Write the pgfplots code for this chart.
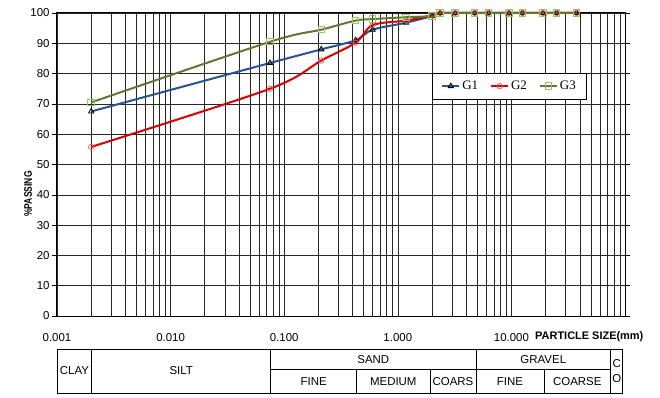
\documentclass[border=0pt]{standalone}
\usepackage{pgfplots}
\usepackage{pgfplotstable}
\pgfplotsset{compat=1.18}
\usepackage{fontspec}
\setmainfont{Liberation Sans}
\newfontfamily\legfont{Liberation Serif}
\definecolor{cGone}{RGB}{38,84,145}
\definecolor{cGtwo}{RGB}{222,0,0}
\definecolor{mGtwo}{RGB}{230,90,90}
\definecolor{cGthree}{RGB}{94,122,48}
\definecolor{mGthree}{RGB}{160,190,95}

\pgfplotstableread{
x y
0.002 67.5
0.075 83.5
0.212 88.0
0.425 91.0
0.6 94.5
1.18 96.8
2.0 99.0
2.36 100
3.2 100
4.75 100
6.3 100
9.5 100
12.5 100
19 100
25 100
37.5 100
}\gone
\pgfplotstableread{
x y
0.002 55.8
0.075 75.0
0.212 84.3
0.425 90.2
0.6 96.0
1.18 97.5
2.0 99.2
2.36 100
3.2 100
4.75 100
6.3 100
9.5 100
12.5 100
19 100
25 100
37.5 100
}\gtwo
\pgfplotstableread{
x y
0.002 70.5
0.075 90.5
0.212 94.5
0.425 97.5
0.6 98.0
1.18 98.6
2.0 99.0
2.36 100
3.2 100
4.75 100
6.3 100
9.5 100
12.5 100
19 100
25 100
37.5 100
}\gthree

\begin{document}
\begin{tikzpicture}[x=1bp,y=1bp]
\useasboundingbox (0,0) rectangle (660,397);
\begin{axis}[
  at={(57bp,81bp)}, anchor=south west,
  scale only axis, width=568bp, height=303bp,
  xmode=log, xmin=0.001, xmax=100, ymin=0, ymax=100,
  xtick={0.001,0.01,0.1,1,10},
  xticklabels={0.001,0.010,0.100,1.000,10.000},
  minor xtick={0.002,0.003,0.004,0.005,0.006,0.007,0.008,0.009,
    0.02,0.03,0.04,0.05,0.06,0.07,0.08,0.09,
    0.2,0.3,0.4,0.5,0.6,0.7,0.8,0.9,
    2,3,4,5,6,7,8,9,20,30,40,50,60,70,80,90},
  ytick={0,10,...,100},
  grid=both,
  major grid style={black!85, line width=0.6bp},
  minor grid style={black!85, line width=0.6bp},
  axis line style={black, line width=1bp},
  xtick style={draw=none}, minor tick style={draw=none},
  ytick style={black, line width=0.6bp},
  tick align=outside, major tick length=5bp,
  tick label style={font=\fontsize{11.5}{13}\selectfont},
  yticklabel style={xshift=1bp},
  /pgf/number format/assume math mode=true,
  xticklabel style={anchor=base, yshift=-20bp},
  clip=false,
  legend columns=3,
  legend style={at={(axis description cs:0.660,0.803)}, anchor=north west,
    draw=black, line width=0.8bp, fill=white,
    font=\legfont\fontsize{13}{15}\selectfont,
    inner xsep=9bp, inner ysep=6bp,
    /tikz/every even column/.append style={column sep=10bp}},
]
\addplot[cGone, line width=2bp, smooth, mark=triangle, mark size=3bp,
  mark options={black, line width=0.8bp, solid, fill=none}] table {\gone};
\addlegendentry{G1}
\addplot[cGtwo, line width=2bp, smooth, mark=o, mark size=2.7bp,
  mark options={mGtwo, line width=0.7bp, solid, fill=none}] table {\gtwo};
\addlegendentry{G2}
\addplot[cGthree, line width=2bp, smooth, mark=square, mark size=3.2bp,
  mark options={mGthree, line width=1bp, solid, fill=none}] table {\gthree};
\addlegendentry{G3}
\end{axis}

% axis titles
\node[rotate=90, font=\bfseries\fontsize{11}{12}\selectfont] at (28,203) {\scalebox{0.78}[1]{\%PASSING}};
\node[anchor=base west, font=\bfseries\fontsize{11}{12}\selectfont, inner sep=0] at (535,58) {PARTICLE SIZE(mm)};

% classification table
\begin{scope}[line width=0.8bp, black]
\draw (57.3,4) rectangle (622.7,47.7);
\draw (91.7,4) -- (91.7,47.7);
\draw (270.7,4) -- (270.7,47.7);
\draw (270.7,27.7) -- (610.7,27.7);
\draw (356.7,4) -- (356.7,27.7);
\draw (430,4) -- (430,27.7);
\draw (476,4) -- (476,47.7);
\draw (544,4) -- (544,27.7);
\draw (610.7,4) -- (610.7,47.7);
\end{scope}
\begin{scope}[every node/.style={font=\fontsize{11.5}{13}\selectfont, inner sep=0}]
\node at (74.5,26) {CLAY};
\node at (181.2,26) {SILT};
\node at (373.3,37.7) {SAND};
\node at (543.3,37.7) {GRAVEL};
\node at (313.7,15.8) {FINE};
\node at (393.3,15.8) {MEDIUM};
\node at (453,15.8) {COARS};
\node at (510,15.8) {FINE};
\node at (577.3,15.8) {COARSE};
\node at (616.7,33.5) {C};
\node at (616.7,18) {O};
\end{scope}
\end{tikzpicture}
\end{document}
